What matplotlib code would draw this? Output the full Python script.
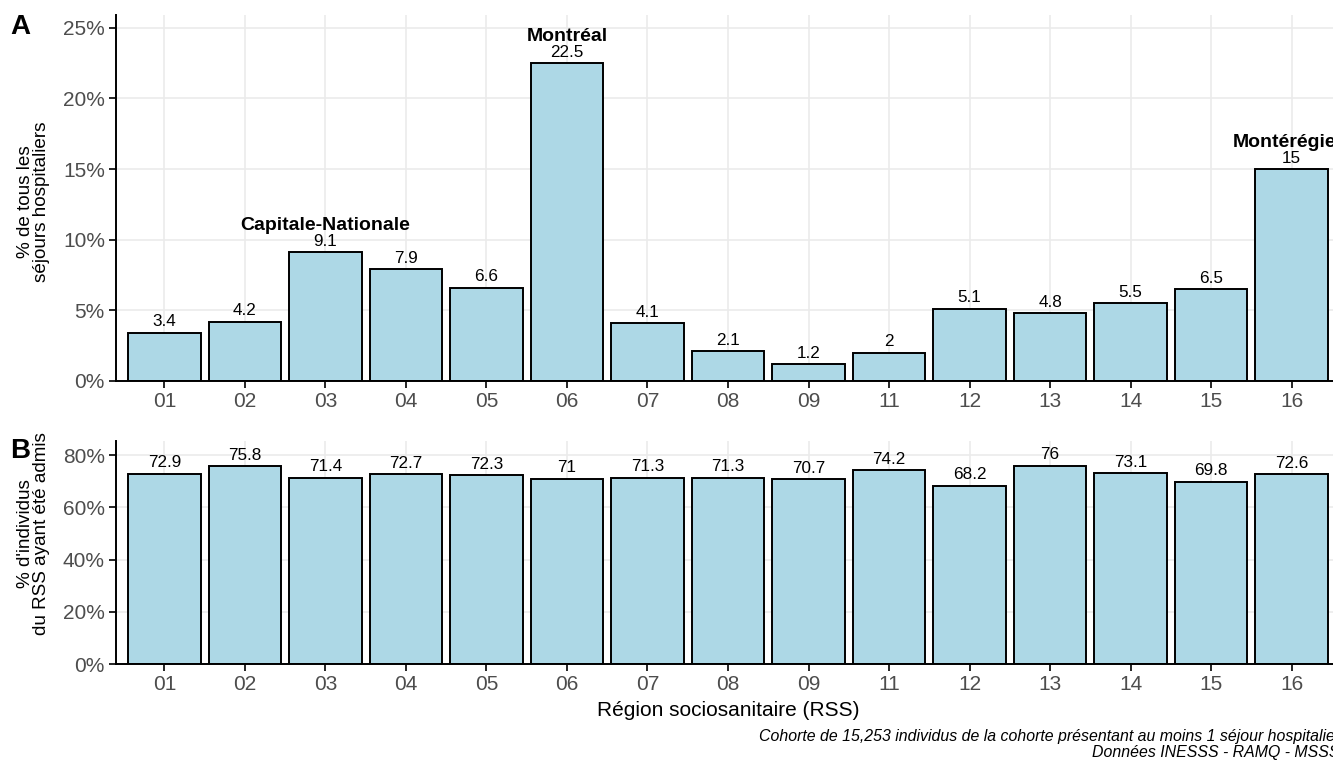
import numpy as np
import matplotlib.pyplot as plt

plt.rcParams['font.family'] = ['Liberation Sans', 'DejaVu Sans']

rss = ['01', '02', '03', '04', '05', '06', '07', '08', '09', '11', '12', '13', '14', '15', '16']
pct_sejours = [3.4, 4.2, 9.1, 7.9, 6.6, 22.5, 4.1, 2.1, 1.2, 2, 5.1, 4.8, 5.5, 6.5, 15]
pct_admis = [72.9, 75.8, 71.4, 72.7, 72.3, 71, 71.3, 71.3, 70.7, 74.2, 68.2, 76, 73.1, 69.8, 72.6]
noms = {'03': 'Capitale-Nationale', '06': 'Montréal', '16': 'Montérégie'}

x = np.arange(1, len(rss) + 1)
fig = plt.figure(figsize=(13.33, 7.61), dpi=100)

axA = fig.add_axes([116/1333, 1 - 381/761, 1224/1333, (381-15)/761])
axB = fig.add_axes([116/1333, 1 - 664/761, 1224/1333, (664-441)/761])

def style(ax, ymax, yticks):
    ax.set_xlim(0.4, 15.6)
    ax.set_ylim(0, ymax)
    ax.set_yticks(yticks)
    ax.set_yticklabels([f"{t:g}%" for t in yticks])
    ax.set_xticks(x)
    ax.set_xticklabels(rss)
    ax.grid(True, color='#ebebeb', linewidth=1.2)
    ax.set_axisbelow(True)
    for s in ['top', 'right']:
        ax.spines[s].set_visible(False)
    for s in ['left', 'bottom']:
        ax.spines[s].set_linewidth(1.4)
        ax.spines[s].set_color('black')
    ax.tick_params(length=5, width=1.2, color='black', labelsize=15, labelcolor='#4d4d4d', pad=3)

style(axA, 25.9, [0, 5, 10, 15, 20, 25])
style(axB, 85.4, [0, 20, 40, 60, 80])

axA.bar(x, pct_sejours, width=0.9, color='#add8e6', edgecolor='black', linewidth=1.4)
axB.bar(x, pct_admis, width=0.9, color='#add8e6', edgecolor='black', linewidth=1.4)

# valeurs + noms des grandes régions
for xi, v, r in zip(x, pct_sejours, rss):
    axA.annotate(f"{v:g}", (xi, v), xytext=(0, 11), textcoords='offset pixels',
                 ha='center', va='center', fontsize=12.3, color='black', annotation_clip=False)
    if r in noms:
        dx = -7 if r == '16' else 0
        axA.annotate(noms[r], (xi, v), xytext=(dx, 27), textcoords='offset pixels',
                     ha='center', va='center', fontsize=14, fontweight='bold', annotation_clip=False)

for xi, v in zip(x, pct_admis):
    axB.annotate(f"{v:g}", (xi, v), xytext=(0, 11), textcoords='offset pixels',
                 ha='center', va='center', fontsize=12.3, color='black')

axA.set_ylabel("% de tous les\nséjours hospitaliers", fontsize=13.6, linespacing=0.9)
axB.set_ylabel("% d'individus\ndu RSS ayant été admis", fontsize=13.6, linespacing=0.9)
axA.yaxis.set_label_coords(-0.054, 0.49)
axB.yaxis.set_label_coords(-0.054, 0.585)
axB.set_xlabel("Région sociosanitaire (RSS)", fontsize=15, labelpad=5)

fig.text(10/1333, 1 - 27/761, 'A', fontsize=20, fontweight='bold', va='center')
fig.text(10/1333, 1 - 451/761, 'B', fontsize=20, fontweight='bold', va='center')

fig.text(1340/1333, 1 - 737/761, "Cohorte de 15,253 individus de la cohorte présentant au moins 1 séjour hospitalier",
         ha='right', va='center', fontsize=11.4, style='italic')
fig.text(1340/1333, 1 - 753/761, "Données INESSS - RAMQ - MSSS",
         ha='right', va='center', fontsize=11.4, style='italic')

fig.savefig('out.png', dpi=100)
